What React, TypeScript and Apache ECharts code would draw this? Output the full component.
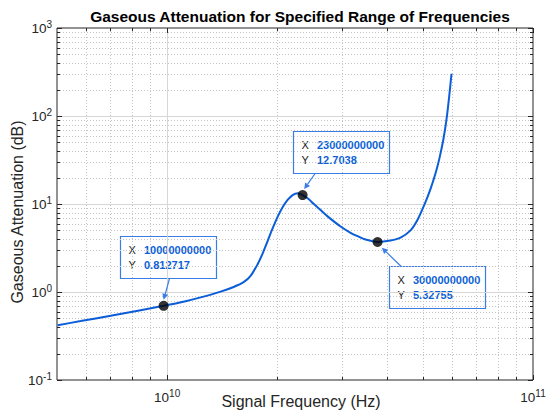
import { useEffect, useRef } from 'react';
import * as echarts from 'echarts';

// ---- data ----
const freqHz = [
  5.021e9, 5.803e9, 7.009e9, 8.465e9, 9.782e9, 1.1234e10, 1.2347e10, 1.4002e10, 1.5196e10, 1.6182e10,
  1.691e10, 1.7672e10, 1.8237e10, 1.8820e10, 1.9420e10, 2.0040e10, 2.0682e10, 2.1343e10, 2.2025e10, 2.2729e10,
  2.3455e10, 2.4357e10, 2.5135e10, 2.6267e10, 2.7450e10, 2.9789e10, 3.1723e10, 3.3150e10, 3.4862e10, 3.7595e10,
  4.0800e10, 4.3450e10, 4.6270e10, 4.8355e10, 5.0530e10, 5.2476e10, 5.4152e10, 5.5532e10, 5.6947e10, 5.8030e10,
  5.8950e10, 5.9886e10,
];
const attenuationDb = [
  0.4199, 0.4669, 0.538, 0.6215, 0.6964, 0.7862, 0.868, 1.0102, 1.1407, 1.2944,
  1.5256, 2.0672, 2.7307, 3.7946, 5.2722, 7.1431, 9.199, 11.121, 12.62, 13.277,
  12.62, 11.407, 10.051, 8.5247, 7.234, 5.546, 4.705, 4.3053, 3.9421, 3.7,
  3.8432, 4.1454, 5.0119, 6.6205, 9.9243, 14.878, 22.303, 33.433, 55.455, 91.99,
  160.55, 302.1,
];

const markerFreqHz = [9.782e9, 2.3455e10, 3.7595e10];
const markerDb = [0.6964, 12.62, 3.7];
const tipXText = ['10000000000', '23000000000', '30000000000'];
const tipYText = ['0.812717', '12.7038', '5.32755'];

const xMajorTicks = [1e10, 1e11];
const xMinorTicks = [6e9, 7e9, 8e9, 9e9, 2e10, 3e10, 4e10, 5e10, 6e10, 7e10, 8e10, 9e10];
const yMajorTicks = [0.1, 1, 10, 100, 1000];
const yMinorTicks = [0.2, 0.3, 0.4, 0.5, 0.6, 0.7, 0.8, 0.9, 2, 3, 4, 5, 6, 7, 8, 9, 20, 30, 40, 50, 60, 70, 80, 90, 200, 300, 400, 500, 600, 700, 800, 900];

const X_MIN = 5e9;
const X_MAX = 1e11;
const Y_MIN = 0.1;
const Y_MAX = 1000;

const TITLE = 'Gaseous Attenuation for Specified Range of Frequencies';
const X_NAME = 'Signal Frequency (Hz)';
const Y_NAME = 'Gaseous Attenuation (dB)';

// ---- styling / layout ----
const FONT = 'Liberation Sans, Arial, Helvetica, sans-serif';
const AXIS_COLOR = '#262626';
const CURVE_COLOR = '#0b5ed8';
const TIP_BORDER = '#3b7de6';
const TIP_VALUE = '#0d5fd8';
// box offset relative to marker, arrow start relative to box, arrow end relative to marker
const tipLayout = [
  { dx: -44, dy: -70, sx: 49, sy: 42, ex: 0, ey: -6 },
  { dx: -10, dy: -64, sx: 21.6, sy: 42, ex: 1.6, ey: -6 },
  { dx: 11.6, dy: 24, sx: 11.7, sy: 0, ex: 4.3, ey: 5.7 },
];
const TIP_W = 96;
const TIP_H = 42;

const powLabel = (v: number) => {
  const l = Math.log10(v);
  const e = Math.round(l);
  if (Math.abs(l - e) > 1e-6) return '';
  return `{b|10}{s|${e}}`;
};

const labelRich = {
  b: { fontSize: 13.5, fontFamily: FONT, color: AXIS_COLOR, lineHeight: 18, verticalAlign: 'middle' },
  s: { fontSize: 10, fontFamily: FONT, color: AXIS_COLOR, lineHeight: 10, verticalAlign: 'top' },
};

function tickSeries(axis: 'x' | 'y', values: number[], major: boolean) {
  return {
    type: 'custom',
    silent: true,
    z: 1,
    data: values.map((v) => (axis === 'x' ? [v, 1] : [1e10, v])),
    renderItem: (params: any, api: any) => {
      const cs = params.coordSys;
      const p = api.coord([api.value(0), api.value(1)]);
      const children: any[] = [];
      const tl = major ? 5 : 3;
      const gridStyle = major
        ? { stroke: '#d6d6d6', lineWidth: 1 }
        : { stroke: '#c4c4c4', lineWidth: 1, lineDash: [1, 2] };
      const tickStyle = { stroke: AXIS_COLOR, lineWidth: 1 };
      if (axis === 'x') {
        const x = Math.round(p[0]) + 0.5;
        const top = cs.y;
        const bottom = cs.y + cs.height;
        if (p[0] > cs.x + 1 && p[0] < cs.x + cs.width - 1) {
          children.push({ type: 'line', shape: { x1: x, y1: top, x2: x, y2: bottom }, style: gridStyle });
        }
        children.push({ type: 'line', shape: { x1: x, y1: bottom, x2: x, y2: bottom - tl }, style: tickStyle });
        children.push({ type: 'line', shape: { x1: x, y1: top, x2: x, y2: top + tl }, style: tickStyle });
      } else {
        const y = Math.round(p[1]) + 0.5;
        const left = cs.x;
        const right = cs.x + cs.width;
        if (p[1] > cs.y + 1 && p[1] < cs.y + cs.height - 1) {
          children.push({ type: 'line', shape: { x1: left, y1: y, x2: right, y2: y }, style: gridStyle });
        }
        children.push({ type: 'line', shape: { x1: left, y1: y, x2: left + tl, y2: y }, style: tickStyle });
        children.push({ type: 'line', shape: { x1: right, y1: y, x2: right - tl, y2: y }, style: tickStyle });
      }
      return { type: 'group', children };
    },
  };
}

export default function App() {
  const ref = useRef<HTMLDivElement>(null);

  useEffect(() => {
    if (!ref.current) return;
    const chart = echarts.init(ref.current, undefined, { renderer: 'svg' });
    chart.setOption({
      animation: false,
      backgroundColor: '#ffffff',
      title: {
        text: TITLE,
        left: 295,
        top: 3,
        textAlign: 'center',
        textStyle: { fontSize: 15.5, fontWeight: 'bold', fontFamily: FONT, color: '#000000' },
      },
      grid: {
        left: 57,
        right: 17,
        top: 28,
        bottom: 36,
        outerBoundsMode: 'none',
        containLabel: false,
        show: true,
        borderColor: AXIS_COLOR,
        borderWidth: 1,
        backgroundColor: '#ffffff',
      },
      xAxis: {
        type: 'log',
        logBase: 10,
        min: X_MIN,
        max: X_MAX,
        name: X_NAME,
        nameLocation: 'middle',
        nameGap: 13,
        nameMoveOverlap: false,
        nameTextStyle: { fontSize: 16, fontFamily: FONT, color: AXIS_COLOR, padding: [0, 0, 0, 12] },
        axisLine: { show: false },
        axisTick: { show: false },
        splitLine: { show: false },
        axisLabel: { formatter: powLabel, rich: labelRich, margin: 8 },
      },
      yAxis: {
        type: 'log',
        logBase: 10,
        min: Y_MIN,
        max: Y_MAX,
        name: Y_NAME,
        nameLocation: 'middle',
        nameGap: 32,
        nameMoveOverlap: false,
        nameTextStyle: { fontSize: 16, fontFamily: FONT, color: AXIS_COLOR, padding: [0, 16, 0, 0] },
        axisLine: { show: false },
        axisTick: { show: false },
        splitLine: { show: false },
        axisLabel: { formatter: powLabel, rich: labelRich, margin: 5 },
      },
      series: [
        tickSeries('x', xMinorTicks, false),
        tickSeries('y', yMinorTicks, false),
        tickSeries('x', xMajorTicks, true),
        tickSeries('y', yMajorTicks, true),
        {
          type: 'line',
          data: freqHz.map((f, i) => [f, attenuationDb[i]]),
          smooth: 0.3,
          showSymbol: false,
          z: 3,
          lineStyle: { color: CURVE_COLOR, width: 2 },
        },
        {
          type: 'scatter',
          data: markerFreqHz.map((f, i) => [f, markerDb[i]]),
          symbol: 'circle',
          symbolSize: 10,
          z: 4,
          itemStyle: { color: '#000000' },
        },
      ],
    });

    const graphics: any[] = [];
    markerFreqHz.forEach((f, i) => {
      const p = chart.convertToPixel({ gridIndex: 0 }, [f, markerDb[i]]) as number[];
      const L = tipLayout[i];
      const bx = Math.round(p[0] + L.dx) + 0.5;
      const by = Math.round(p[1] + L.dy) + 0.5;
      graphics.push({
        type: 'group',
        x: bx,
        y: by,
        z: 100,
        children: [
          { type: 'rect', shape: { x: 0, y: 0, width: TIP_W, height: TIP_H }, style: { fill: '#ffffff', stroke: TIP_BORDER, lineWidth: 1.2 } },
          { type: 'text', style: { text: 'X', x: 8, y: 13, fill: '#1a1a1a', fontSize: 11, fontFamily: FONT, verticalAlign: 'middle', align: 'left' } },
          { type: 'text', style: { text: 'Y', x: 8, y: 28.5, fill: '#1a1a1a', fontSize: 11, fontFamily: FONT, verticalAlign: 'middle', align: 'left' } },
          { type: 'text', style: { text: tipXText[i], x: 23.5, y: 13, fill: TIP_VALUE, fontSize: 11, fontWeight: 'bold', fontFamily: FONT, verticalAlign: 'middle', align: 'left' } },
          { type: 'text', style: { text: tipYText[i], x: 23.5, y: 28.5, fill: TIP_VALUE, fontSize: 11, fontWeight: 'bold', fontFamily: FONT, verticalAlign: 'middle', align: 'left' } },
        ],
      });
      const sx = bx + L.sx;
      const sy = by + L.sy;
      const ex = p[0] + L.ex;
      const ey = p[1] + L.ey;
      const len = Math.hypot(ex - sx, ey - sy);
      const ux = (ex - sx) / len;
      const uy = (ey - sy) / len;
      const hb = 6;
      const hw = 3;
      const bxh = ex - ux * hb;
      const byh = ey - uy * hb;
      graphics.push({
        type: 'line',
        z: 100,
        shape: { x1: sx, y1: sy, x2: bxh, y2: byh },
        style: { stroke: TIP_BORDER, lineWidth: 1.2 },
      });
      graphics.push({
        type: 'polygon',
        z: 100,
        shape: {
          points: [
            [ex, ey],
            [bxh - uy * hw, byh + ux * hw],
            [bxh + uy * hw, byh - ux * hw],
          ],
        },
        style: { fill: TIP_BORDER },
      });
    });
    chart.setOption({ graphic: graphics });

    return () => chart.dispose();
  }, []);

  return (
    <div
      ref={ref}
      style={{ position: 'fixed', left: 0, top: 0, width: 550, height: 416, background: '#ffffff' }}
    />
  );
}
